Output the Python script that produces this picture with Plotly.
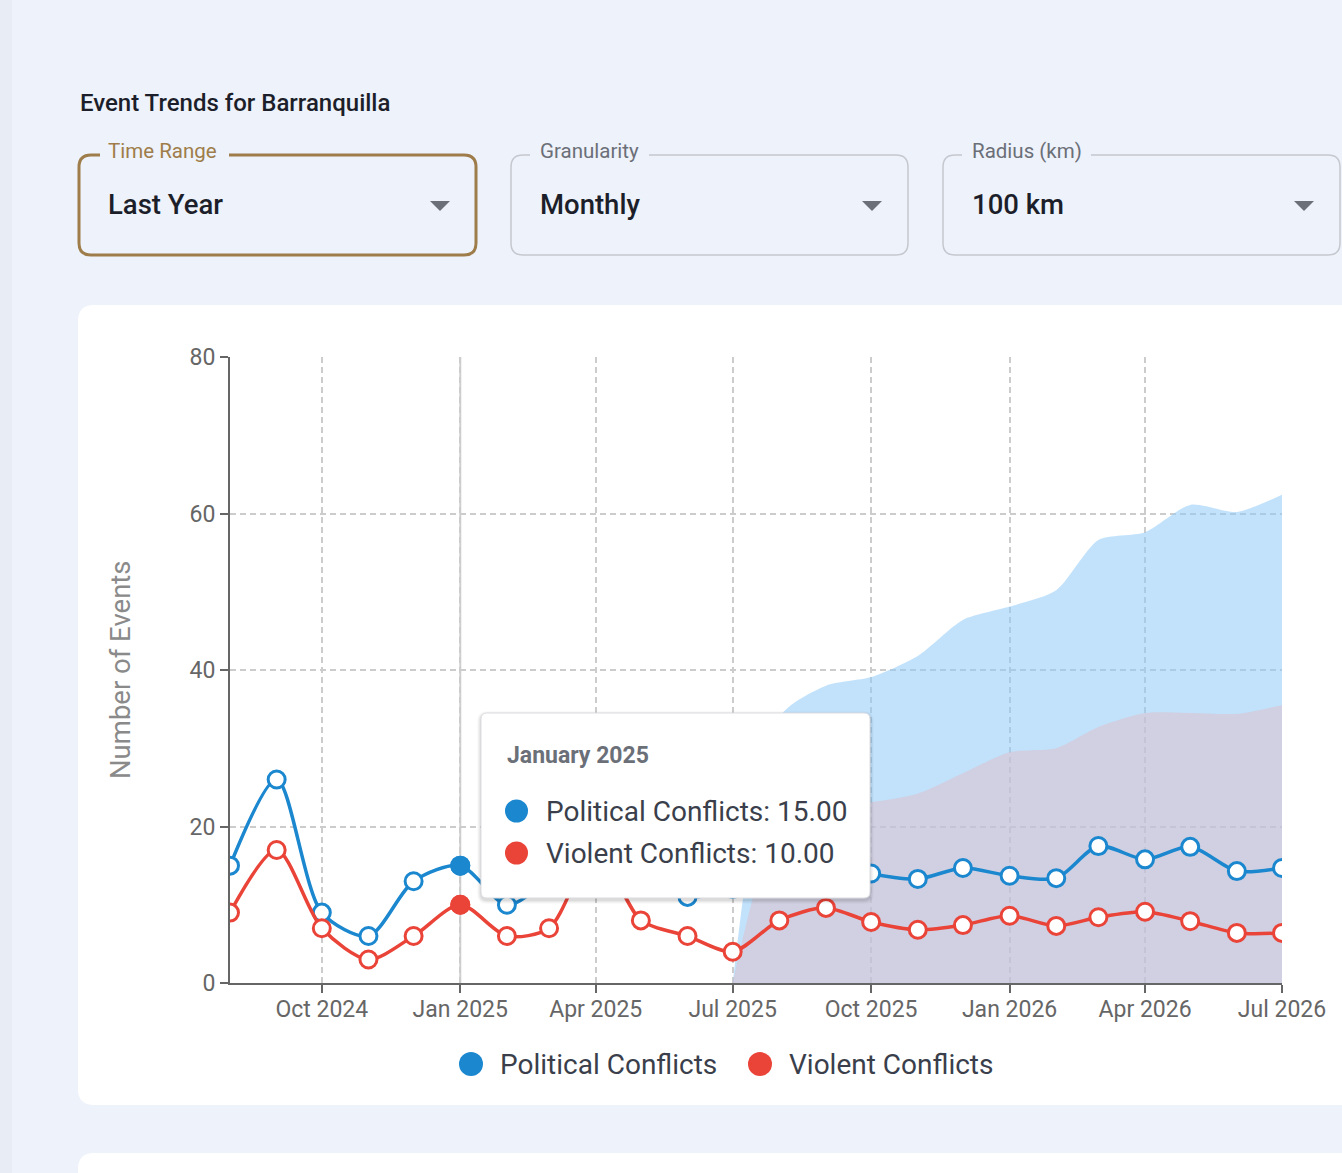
import plotly.graph_objects as go

# ---------------- data ----------------
months = ["2024-08-01", "2024-09-01", "2024-10-01", "2024-11-01", "2024-12-01",
          "2025-01-01", "2025-02-01", "2025-03-01", "2025-04-01", "2025-05-01",
          "2025-06-01", "2025-07-01", "2025-08-01", "2025-09-01", "2025-10-01",
          "2025-11-01", "2025-12-01", "2026-01-01", "2026-02-01", "2026-03-01",
          "2026-04-01", "2026-05-01", "2026-06-01", "2026-07-01"]
political = [15, 26, 9, 6, 13, 15, 10, 13, 16, 14, 11, 12, 14, 16, 14,
             13.3, 14.7, 13.7, 13.4, 17.5, 15.8, 17.4, 14.3, 14.7]
violent = [9, 17, 7, 3, 6, 10, 6, 7, 17, 8, 6, 4, 8, 9.6, 7.8,
           6.8, 7.4, 8.6, 7.3, 8.4, 9.1, 7.9, 6.4, 6.4]
band_months = ["2025-07-01", "2025-08-01", "2025-09-01", "2025-10-01", "2025-11-01",
               "2025-12-01", "2026-01-01", "2026-02-01", "2026-03-01", "2026-04-01",
               "2026-05-01", "2026-06-01", "2026-07-01"]
political_band = [0, 34, 38, 39.1, 41.8, 46.4, 48.1, 50.2, 56.6, 57.6, 61.1, 60.2, 62.4]
violent_band = [0, 20, 22.3, 23.1, 24.2, 26.8, 29.5, 30.0, 32.7, 34.5, 34.5, 34.4, 35.5]
tick_vals = ["2024-10-01", "2025-01-01", "2025-04-01", "2025-07-01", "2025-10-01",
             "2026-01-01", "2026-04-01", "2026-07-01"]
tick_text = ["Oct 2024", "Jan 2025", "Apr 2025", "Jul 2025", "Oct 2025",
             "Jan 2026", "Apr 2026", "Jul 2026"]
y_ticks = [0, 20, 40, 60, 80]
hover_index = 5  # January 2025
hover_label = "January 2025"

BLUE = "#1a87cf"
RED = "#ea4338"
FONT = "Roboto"
PAGE = "#eef2fa"

# ---------------- geometry helpers (layout decoration only) ----------------
W, H = 1342, 1173
L, R, T, B = 230, 1282, 357, 983


def px(x):
    return (x - L) / (R - L)


def py(y):
    return (B - y) / (B - T)


def rrect(x0, y0, x1, y1, r):
    pts = [
        ("M", x0 + r, y0), ("L", x1 - r, y0), ("Q", x1, y0, x1, y0 + r),
        ("L", x1, y1 - r), ("Q", x1, y1, x1 - r, y1), ("L", x0 + r, y1),
        ("Q", x0, y1, x0, y1 - r), ("L", x0, y0 + r), ("Q", x0, y0, x0 + r, y0)]
    s = ""
    for p in pts:
        cmd = p[0]
        coords = p[1:]
        parts = []
        for i in range(0, len(coords), 2):
            parts.append(f"{px(coords[i]):.6f},{py(coords[i + 1]):.6f}")
        s += cmd + " " + " ".join(parts) + " "
    return s + "Z"


shapes = []
annotations = []

# left edge subtle shade
shapes.append(dict(type="rect", xref="paper", yref="paper", x0=px(0), x1=px(12),
                   y0=py(0), y1=py(H), fillcolor="#e8ecf4", line_width=0, layer="below"))

# main card and second card
shapes.append(dict(type="path", xref="paper", yref="paper", path=rrect(78, 305, 1400, 1105, 16),
                   fillcolor="white", line_width=0, layer="below"))
shapes.append(dict(type="path", xref="paper", yref="paper", path=rrect(78, 1153, 1400, 1300, 16),
                   fillcolor="white", line_width=0, layer="below"))

# title
annotations.append(dict(xref="paper", yref="paper", x=px(78), y=py(103), xanchor="left",
                        yanchor="middle", showarrow=False, text="Event Trends for Barranquilla",
                        font=dict(family=FONT, size=24, color="#1c1f2a", weight=500)))

# dropdowns
dropdowns = [
    dict(x0=79, label="Time Range", value="Last Year", color="#9e7d4a", lw=3, gap=(100, 229), lc="#9e7d4a"),
    dict(x0=511, label="Granularity", value="Monthly", color="#c5c8ce", lw=1.5, gap=(530, 649), lc="#6b6f78"),
    dict(x0=943, label="Radius (km)", value="100 km", color="#c5c8ce", lw=1.5, gap=(962, 1091), lc="#6b6f78"),
]
for d in dropdowns:
    x0 = d["x0"]
    x1 = x0 + 397
    shapes.append(dict(type="path", xref="paper", yref="paper", path=rrect(x0, 155, x1, 255, 12),
                       fillcolor="rgba(0,0,0,0)", line=dict(color=d["color"], width=d["lw"]),
                       layer="above"))
    shapes.append(dict(type="rect", xref="paper", yref="paper", x0=px(d["gap"][0]), x1=px(d["gap"][1]),
                       y0=py(150), y1=py(160), fillcolor=PAGE, line_width=0, layer="above"))
    annotations.append(dict(xref="paper", yref="paper", x=px(x0 + 27), y=py(151), xanchor="left",
                            yanchor="middle", showarrow=False, text=d["label"],
                            font=dict(family=FONT, size=20.5, color=d["lc"])))
    annotations.append(dict(xref="paper", yref="paper", x=px(x0 + 27), y=py(205), xanchor="left",
                            yanchor="middle", showarrow=False, text=d["value"],
                            font=dict(family=FONT, size=27.5, color="#1c1f2a", weight=500)))
    ax = x0 + 361
    shapes.append(dict(type="path", xref="paper", yref="paper",
                       path=f"M {px(ax - 10):.6f},{py(201):.6f} L {px(ax + 10):.6f},{py(201):.6f} "
                            f"L {px(ax):.6f},{py(211):.6f} Z",
                       fillcolor="#6b6f78", line_width=0, layer="above"))

# hover guide line
shapes.append(dict(type="line", xref="x", yref="paper", x0=months[hover_index], x1=months[hover_index],
                   y0=0, y1=1, line=dict(color="#cfcfcf", width=2), layer="below"))

# tooltip box with shadow
tx0, ty0, tx1, ty1 = 481, 713, 870, 898
for i, a in enumerate([0.05, 0.04, 0.03, 0.02]):
    e = i + 1
    shapes.append(dict(type="path", xref="paper", yref="paper",
                       path=rrect(tx0 - e, ty0 - e + 2, tx1 + e, ty1 + e + 2, 6 + e),
                       fillcolor=f"rgba(0,0,0,{a})", line_width=0, layer="above"))
shapes.append(dict(type="path", xref="paper", yref="paper", path=rrect(tx0, ty0, tx1, ty1, 6),
                   fillcolor="white", line=dict(color="#dcdde1", width=1), layer="above"))
annotations.append(dict(xref="paper", yref="paper", x=px(505), y=py(755), xanchor="left",
                        yanchor="middle", showarrow=False, text=hover_label,
                        font=dict(family=FONT, size=23, color="#6b6f78", weight=700)))
for k, (name, val, col, yy) in enumerate([("Political Conflicts", political[hover_index], BLUE, 811),
                                          ("Violent Conflicts", violent[hover_index], RED, 853)]):
    shapes.append(dict(type="circle", xref="paper", yref="paper", x0=px(505), x1=px(528),
                       y0=py(yy - 11.5), y1=py(yy + 11.5), fillcolor=col, line_width=0, layer="above"))
    annotations.append(dict(xref="paper", yref="paper", x=px(544), y=py(yy), xanchor="left",
                            yanchor="middle", showarrow=False, text=f"{name}: {val:.2f}",
                            font=dict(family=FONT, size=28, color="#3a3f4b")))

# custom legend
for name, col, cx in [("Political Conflicts", BLUE, 471), ("Violent Conflicts", RED, 760)]:
    shapes.append(dict(type="circle", xref="paper", yref="paper", x0=px(cx - 12), x1=px(cx + 12),
                       y0=py(1064 - 12), y1=py(1064 + 12), fillcolor=col, line_width=0, layer="above"))
    annotations.append(dict(xref="paper", yref="paper", x=px(cx + 27), y=py(1064), xanchor="left",
                            yanchor="middle", showarrow=False, text=name,
                            font=dict(family=FONT, size=28, color="#3a3f4b")))

# y axis title
annotations.append(dict(xref="paper", yref="paper", x=px(120), y=py(670), xanchor="center",
                        yanchor="middle", showarrow=False, text="Number of Events", textangle=-90,
                        font=dict(family=FONT, size=27.5, color="#8a8a8a")))

# ---------------- traces ----------------
fig = go.Figure()
fig.add_trace(go.Scatter(x=band_months, y=political_band, mode="lines", fill="tozeroy",
                         line=dict(width=0, shape="spline", smoothing=0.7),
                         fillcolor="rgba(144,202,249,0.55)", showlegend=False, hoverinfo="skip"))
fig.add_trace(go.Scatter(x=band_months, y=violent_band, mode="lines", fill="tozeroy",
                         line=dict(width=0, shape="spline", smoothing=0.7),
                         fillcolor="rgba(222,190,200,0.5)", showlegend=False, hoverinfo="skip"))
for vals, col in [(political, BLUE), (violent, RED)]:
    fig.add_trace(go.Scatter(x=months, y=vals, mode="lines+markers",
                             line=dict(color=col, width=3.5, shape="spline", smoothing=0.8),
                             marker=dict(size=17, color="white", line=dict(color=col, width=3)),
                             showlegend=False))
for vals, col in [(political, BLUE), (violent, RED)]:
    fig.add_trace(go.Scatter(x=[months[hover_index]], y=[vals[hover_index]], mode="markers",
                             marker=dict(size=20, color=col, line=dict(color=col, width=0)),
                             showlegend=False))

fig.update_layout(
    width=W, height=H, autosize=False,
    margin=dict(l=L, r=W - R, t=T, b=H - B, pad=0),
    paper_bgcolor=PAGE, plot_bgcolor="rgba(0,0,0,0)",
    font=dict(family=FONT, color="#666666"),
    shapes=shapes, annotations=annotations, showlegend=False,
    hovermode=False,
)
fig.update_xaxes(type="date", range=["2024-08-01", "2026-07-01"], tickvals=tick_vals, ticktext=tick_text,
                 showgrid=True, gridcolor="#cccccc", griddash="6px,4px", gridwidth=1.5,
                 showline=True, linecolor="#666666", linewidth=2,
                 ticks="outside", ticklen=8, tickwidth=2, tickcolor="#666666", ticklabelstandoff=-4,
                 tickfont=dict(family=FONT, size=23, color="#666666"), zeroline=False, fixedrange=True)
fig.update_yaxes(range=[0, 80], tickvals=y_ticks, showgrid=True, gridcolor="#cccccc", griddash="6px,4px",
                 gridwidth=1.5, showline=True, linecolor="#666666", linewidth=2,
                 ticks="outside", ticklen=8, tickwidth=2, tickcolor="#666666",
                 tickfont=dict(family=FONT, size=23, color="#666666"), zeroline=False, fixedrange=True)

fig.write_html("out.html", config={"displayModeBar": False},
               post_script="document.body.style.margin='0px';")
